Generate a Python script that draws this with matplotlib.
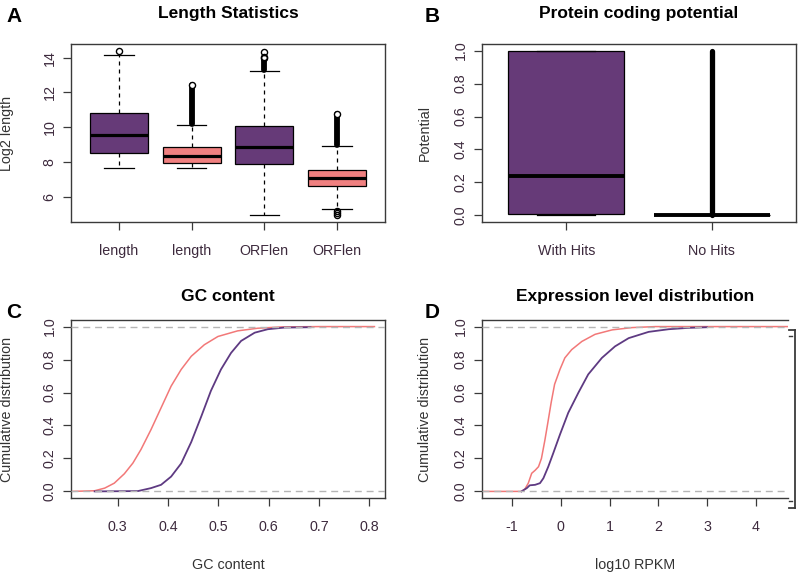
import matplotlib
matplotlib.use("Agg")
import matplotlib.pyplot as plt
from matplotlib.lines import Line2D

plt.rcParams['font.family'] = ['Liberation Sans', 'DejaVu Sans']
plt.rcParams['axes.unicode_minus'] = False

# ---------------- data ----------------
# Panel A: length statistics (log2)
a_labels = ["length", "length", "ORFlen", "ORFlen"]
a_whislo = [7.65, 7.65, 4.95, 5.30]
a_q1 = [8.52, 7.95, 7.88, 6.62]
a_med = [9.56, 8.38, 8.87, 7.08]
a_q3 = [10.83, 8.86, 10.07, 7.54]
a_whishi = [14.15, 10.13, 13.25, 8.92]
a_fliers_single = [[14.40], [], [14.33, 14.05], [5.18, 5.08, 4.98]]
a_fliers_dense = [None, (10.20, 12.45), (13.30, 13.95), (8.97, 10.75)]

# Panel B: protein coding potential
b_labels = ["With Hits", "No Hits"]
b_whislo = [0.0, 0.0]
b_q1 = [0.006, 0.0]
b_med = [0.24, 0.0]
b_q3 = [1.0, 0.0]
b_whishi = [1.0, 0.0]
b_fliers_dense = [None, (0.0, 1.0)]

# Panel C: GC content ECDF
c_pink_x = [0.207, 0.254, 0.274, 0.293, 0.313, 0.330, 0.346, 0.366, 0.386, 0.406,
            0.426, 0.446, 0.472, 0.499, 0.538, 0.578, 0.625, 0.700, 0.810]
c_pink_y = [0.0, 0.004, 0.02, 0.05, 0.107, 0.172, 0.254, 0.375, 0.507, 0.639,
            0.74, 0.82, 0.89, 0.94, 0.974, 0.99, 0.998, 1.0, 1.0]
c_purp_x = [0.254, 0.340, 0.366, 0.386, 0.406, 0.426, 0.446, 0.466, 0.485, 0.505,
            0.525, 0.545, 0.572, 0.598, 0.631, 0.683]
c_purp_y = [0.0, 0.002, 0.02, 0.04, 0.09, 0.17, 0.30, 0.456, 0.61, 0.74,
            0.84, 0.913, 0.963, 0.984, 0.994, 0.996]

# Panel D: expression level ECDF (log10 RPKM)
d_pink_x = [-1.62, -0.81, -0.74, -0.67, -0.60, -0.53, -0.46, -0.40, -0.33, -0.27,
            -0.20, -0.13, -0.02, 0.08, 0.22, 0.43, 0.70, 1.05, 1.46, 1.94, 4.66]
d_pink_y = [0.0, 0.0, 0.014, 0.05, 0.11, 0.128, 0.15, 0.20, 0.31, 0.415,
            0.54, 0.65, 0.74, 0.81, 0.86, 0.91, 0.953, 0.98, 0.994, 1.0, 1.0]
d_purp_x = [-0.81, -0.70, -0.64, -0.53, -0.43, -0.36, -0.26, -0.16, -0.02, 0.15,
            0.36, 0.56, 0.84, 1.11, 1.39, 1.80, 2.21, 2.60, 3.00]
d_purp_y = [0.0, 0.02, 0.037, 0.04, 0.05, 0.08, 0.15, 0.23, 0.345, 0.477,
            0.60, 0.71, 0.81, 0.88, 0.93, 0.968, 0.984, 0.992, 0.996]

# ---------------- style ----------------
PURPLE = "#663a78"
PINK = "#f08080"
LINE_PURPLE = "#5e3a82"
LINE_PINK = "#f27878"
SPINE = "#3a3a3a"
TICKC = "#3d2a3d"
LABC = "#333333"
GRAY = "#b5b5b5"
FS = 10.3

W, H = 800, 573
fig = plt.figure(figsize=(W / 100, H / 100), dpi=100)


def add_ax(x0, y0, x1, y1):
    return fig.add_axes([x0 / W, 1 - y1 / H, (x1 - x0) / W, (y1 - y0) / H])


axA = add_ax(71, 44, 385, 222)
axB = add_ax(482, 44, 796, 222)
axC = add_ax(71, 320, 385, 498)
axD = add_ax(482, 320, 788, 498)


def style(ax):
    for s in ax.spines.values():
        s.set_color(SPINE)
        s.set_linewidth(1.0)
    ax.tick_params(axis='both', length=5.5, width=0.9, color=SPINE,
                   labelsize=FS, labelcolor=TICKC)
    ax.tick_params(axis='x', pad=10)
    ax.tick_params(axis='y', pad=5)
    for lab in ax.get_yticklabels():
        lab.set_rotation(90)
        lab.set_va('center')


def boxes(ax, whislo, q1, med, q3, whishi, colors, medlw):
    stats = []
    for i in range(len(med)):
        stats.append(dict(whislo=whislo[i], q1=q1[i], med=med[i], q3=q3[i],
                          whishi=whishi[i], fliers=[]))
    pos = list(range(1, len(med) + 1))
    bp = ax.bxp(stats, positions=pos, widths=0.8, patch_artist=True,
                showfliers=False,
                boxprops=dict(edgecolor='black', linewidth=0.9),
                whiskerprops=dict(color='black', linewidth=0.9,
                                  linestyle=(0, (3.2, 3.2))),
                capprops=dict(color='black', linewidth=0.9),
                medianprops=dict(color='black', linewidth=medlw,
                                 solid_capstyle='butt'))
    for p, c in zip(bp['boxes'], colors):
        p.set_facecolor(c)
    return pos


# ---------- Panel A ----------
posA = boxes(axA, a_whislo, a_q1, a_med, a_q3, a_whishi,
             [PURPLE, PINK, PURPLE, PINK], 2.3)
for p, singles, dense in zip(posA, a_fliers_single, a_fliers_dense):
    if dense is not None:
        axA.plot([p, p], dense, color='black', lw=4.2, solid_capstyle='round',
                 zorder=4)
        axA.plot([p], [dense[1]], marker='o', ms=4.4, mfc='white', mec='black',
                 mew=1.0, ls='none', zorder=5)
    if singles:
        axA.plot([p] * len(singles), singles, marker='o', ms=4.4, mfc='none',
                 mec='black', mew=1.0, ls='none', zorder=5)
axA.set_xlim(0.34, 4.66)
axA.set_ylim(4.57, 14.78)
axA.set_xticks(posA)
axA.set_xticklabels(a_labels)
axA.set_yticks([6, 8, 10, 12, 14])
axA.set_ylabel("Log2 length", fontsize=FS, color=LABC)
axA.yaxis.set_label_coords((14 - 71) / 314, 0.5)
axA.set_title("Length Statistics", fontsize=12.5, fontweight='bold', pad=19)
style(axA)

# ---------- Panel B ----------
posB = boxes(axB, b_whislo, b_q1, b_med, b_q3, b_whishi, [PURPLE, PURPLE], 2.8)
for p, dense in zip(posB, b_fliers_dense):
    if dense is not None:
        axB.plot([p, p], dense, color='black', lw=3.8, solid_capstyle='round',
                 zorder=4)
axB.set_xlim(0.42, 2.58)
axB.set_ylim(-0.04, 1.04)
axB.set_xticks(posB)
axB.set_xticklabels(b_labels)
axB.set_yticks([0, 0.2, 0.4, 0.6, 0.8, 1.0])
axB.set_yticklabels(["0.0", "0.2", "0.4", "0.6", "0.8", "1.0"])
axB.set_ylabel("Potential", fontsize=FS, color=LABC)
axB.yaxis.set_label_coords((432 - 482) / 314, 0.5)
axB.set_title("Protein coding potential", fontsize=12.5, fontweight='bold', pad=19)
style(axB)

# ---------- Panel C ----------
axC.plot(c_pink_x, c_pink_y, color=LINE_PINK, lw=1.1, zorder=2)
axC.plot(c_purp_x, c_purp_y, color=LINE_PURPLE, lw=1.3, zorder=2)
for yv in (0, 1):
    axC.axhline(yv, color=GRAY, lw=1.0, ls=(0, (5, 3.5)), zorder=3)
axC.set_xlim(0.207, 0.831)
axC.set_ylim(-0.04, 1.04)
axC.set_xticks([0.3, 0.4, 0.5, 0.6, 0.7, 0.8])
axC.set_xticklabels(["0.3", "0.4", "0.5", "0.6", "0.7", "0.8"])
axC.set_yticks([0, 0.2, 0.4, 0.6, 0.8, 1.0])
axC.set_yticklabels(["0.0", "0.2", "0.4", "0.6", "0.8", "1.0"])
axC.set_ylabel("Cumulative distribution", fontsize=FS, color=LABC)
axC.yaxis.set_label_coords((14 - 71) / 314, 0.5)
axC.set_xlabel("GC content", fontsize=FS, color=LABC)
axC.xaxis.set_label_coords(0.5, (498 - 558) / 178)
axC.set_title("GC content", fontsize=12.5, fontweight='bold', pad=14)
style(axC)

# ---------- Panel D ----------
axD.plot(d_pink_x, d_pink_y, color=LINE_PINK, lw=1.1, zorder=2)
axD.plot(d_purp_x, d_purp_y, color=LINE_PURPLE, lw=1.3, zorder=2)
for yv in (0, 1):
    axD.axhline(yv, color=GRAY, lw=1.0, ls=(0, (5, 3.5)), zorder=3)
axD.set_xlim(-1.62, 4.66)
axD.set_ylim(-0.04, 1.04)
axD.set_xticks([-1, 0, 1, 2, 3, 4])
axD.set_yticks([0, 0.2, 0.4, 0.6, 0.8, 1.0])
axD.set_yticklabels(["0.0", "0.2", "0.4", "0.6", "0.8", "1.0"])
axD.set_ylabel("Cumulative distribution", fontsize=FS, color=LABC)
axD.yaxis.set_label_coords((432 - 482) / 306, 0.5)
axD.set_xlabel("log10 RPKM", fontsize=FS, color=LABC)
axD.xaxis.set_label_coords(0.5, (498 - 558) / 178)
axD.set_title("Expression level distribution", fontsize=12.5, fontweight='bold', pad=14)
style(axD)
axD.spines['right'].set_visible(False)

# bracket artifact at right of panel D (figure pixel coords)
def fl(xs, ys, lw=1.3):
    fig.add_artist(Line2D([x / W for x in xs], [1 - y / H for y in ys],
                          color=SPINE, lw=lw, transform=fig.transFigure))

fl([795, 795], [330, 508])
fl([789, 795], [330, 330])
fl([789, 795], [508, 508])
fl([789, 792], [336, 336], lw=1.0)
fl([789, 792], [501, 501], lw=1.0)

# panel letters
for letter, x, y in [("A", 14, 16), ("B", 432, 16), ("C", 14, 312), ("D", 432, 312)]:
    fig.text(x / W, 1 - y / H, letter, fontsize=15, fontweight='bold',
             ha='center', va='center')

fig.savefig("out.png", dpi=100, facecolor='white')
